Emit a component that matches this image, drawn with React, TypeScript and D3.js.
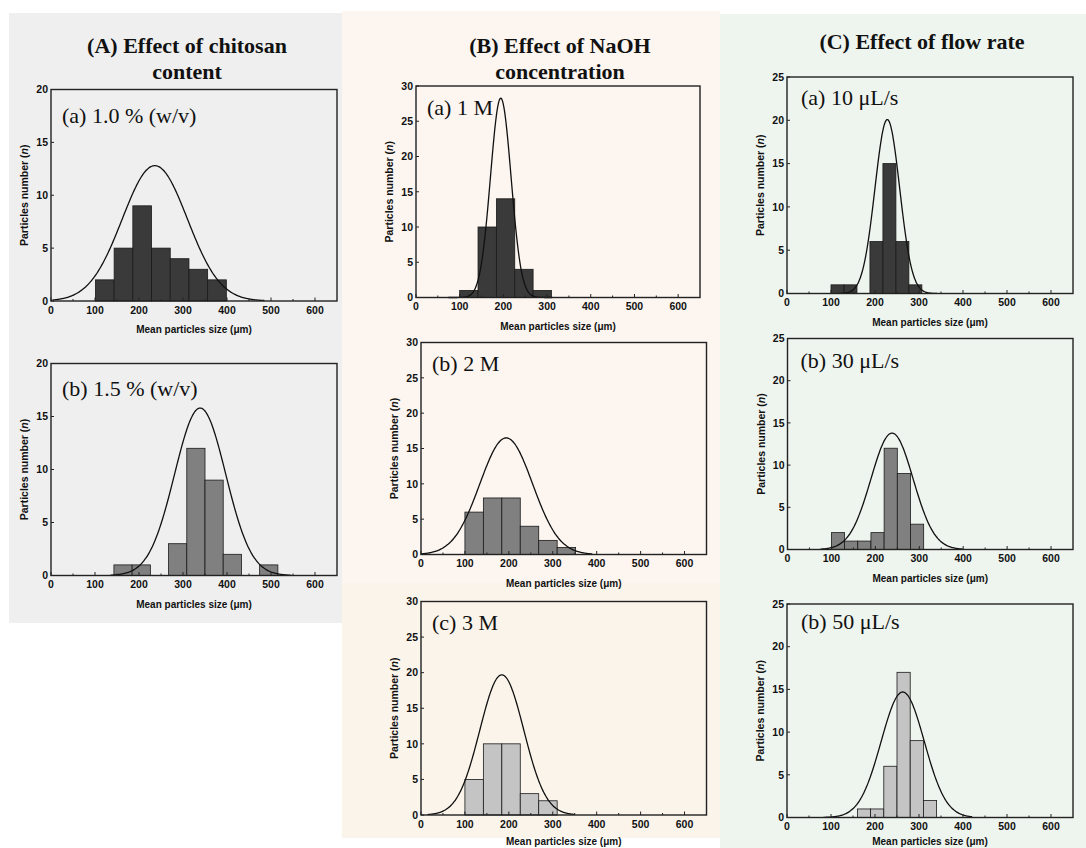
import React from 'react';
import * as d3 from 'd3';

// --- data (bin edges in µm, counts per bin, normal fit) ---

// (A) chitosan content
const chitosan10Edges = [101, 143.5, 186, 228.5, 271, 313.5, 356, 398.5];
const chitosan10Counts = [2, 5, 9, 5, 4, 3, 2];
const chitosan10Fit = { mean: 236, sd: 74, peak: 12.8, from: 3, to: 485 };

const chitosan15Edges = [143, 184.4, 225.8, 267.2, 308.6, 350, 391.4, 432.8, 474.2, 515.6];
const chitosan15Counts = [1, 1, 0, 3, 12, 9, 2, 0, 1];
const chitosan15Fit = { mean: 339, sd: 58, peak: 15.8, from: 135, to: 546 };

// (B) NaOH concentration
const naoh1Edges = [100, 142, 184, 226, 268, 310];
const naoh1Counts = [1, 10, 14, 4, 1];
const naoh1Fit = { mean: 194, sd: 23.5, peak: 28.3, from: 74, to: 312 };

const naoh2Edges = [100, 142, 184, 226, 268, 310, 352];
const naoh2Counts = [6, 8, 8, 4, 2, 1];
const naoh2Fit = { mean: 194, sd: 60, peak: 16.5, from: 0, to: 390 };

const naoh3Edges = [100, 142, 184, 226, 268, 310];
const naoh3Counts = [5, 10, 10, 3, 2];
const naoh3Fit = { mean: 184, sd: 50, peak: 19.7, from: 15, to: 350 };

// (C) flow rate
const flow10Edges = [100, 129.5, 159, 188.5, 218, 247.5, 277, 306.5];
const flow10Counts = [1, 1, 0, 6, 15, 6, 1];
const flow10Fit = { mean: 228, sd: 28, peak: 20.1, from: 117, to: 342 };

const flow30Edges = [100, 130, 160, 190, 220, 250, 280, 310];
const flow30Counts = [2, 1, 1, 2, 12, 9, 3];
const flow30Fit = { mean: 238, sd: 48, peak: 13.8, from: 75, to: 400 };

const flow50Edges = [160, 190, 220, 250, 280, 310, 340];
const flow50Counts = [1, 1, 6, 17, 9, 2];
const flow50Fit = { mean: 263, sd: 49, peak: 14.7, from: 83, to: 421 };

const xTickValues = [0, 100, 200, 300, 400, 500, 600];
const xMinorTickValues = [50, 150, 250, 350, 450, 550];

const SERIF = '"Liberation Serif", "Times New Roman", serif';
const SANS = '"Liberation Sans", Arial, sans-serif';

const DARK = '#3a3a3a';
const MID = '#808080';
const LIGHT = '#c4c4c4';

type Fit = { mean: number; sd: number; peak: number; from: number; to: number };

type HistProps = {
  left: number;
  top: number;
  right: number;
  bottom: number;
  yMax: number;
  label: string;
  labelDx: number;
  labelDy: number;
  titleDy?: number;
  edges: number[];
  counts: number[];
  fit: Fit;
  fill: string;
};

const Histogram = ({ left, top, right, bottom, yMax, label, labelDx, labelDy, titleDy = 32, edges, counts, fit, fill }: HistProps) => {
  const x = d3.scaleLinear().domain([0, 650]).range([left, right]);
  const y = d3.scaleLinear().domain([0, yMax]).range([bottom, top]);
  const yTicks = d3.range(0, yMax + 1, 5);

  // normal fit curve, sampled along its drawn range
  const pts = d3.range(fit.from, fit.to + 0.01, 2).map((v) => [
    v,
    fit.peak * Math.exp(-((v - fit.mean) ** 2) / (2 * fit.sd * fit.sd)),
  ]);
  const line = d3
    .line<number[]>()
    .x((d) => x(d[0]))
    .y((d) => y(d[1]))
    .curve(d3.curveBasis);

  return (
    <g>
      {counts.map((c, i) =>
        c > 0 ? (
          <rect
            key={i}
            x={x(edges[i])}
            y={y(c)}
            width={x(edges[i + 1]) - x(edges[i])}
            height={y(0) - y(c)}
            fill={fill}
            stroke="#1a1a1a"
            strokeWidth={0.8}
          />
        ) : null
      )}
      <path d={line(pts) || ''} fill="none" stroke="#111" strokeWidth={1.3} />
      <rect x={left} y={top} width={right - left} height={bottom - top} fill="none" stroke="#222" strokeWidth={1.4} />

      {/* x ticks, inward */}
      {xTickValues.map((v) => (
        <g key={v}>
          <line x1={x(v)} x2={x(v)} y1={bottom} y2={bottom - 3.5} stroke="#222" />
          <text
            x={x(v)}
            y={bottom + 12.5}
            textAnchor="middle"
            fontFamily={SANS}
            fontWeight="bold"
            fontSize={10.5}
            fill="#111"
          >
            {v}
          </text>
        </g>
      ))}
      {xMinorTickValues.map((v) => (
        <line key={v} x1={x(v)} x2={x(v)} y1={bottom} y2={bottom - 2} stroke="#222" />
      ))}

      {/* y ticks */}
      {yTicks.map((v) => (
        <g key={v}>
          <line x1={left} x2={left + 3} y1={y(v)} y2={y(v)} stroke="#222" />
          <text
            x={left - 3}
            y={y(v)}
            dy="0.36em"
            textAnchor="end"
            fontFamily={SANS}
            fontWeight="bold"
            fontSize={10.5}
            fill="#111"
          >
            {v}
          </text>
        </g>
      ))}

      <text
        x={(left + right) / 2}
        y={bottom + titleDy}
        textAnchor="middle"
        fontFamily={SANS}
        fontWeight="bold"
        fontSize={10}
        fill="#111"
      >
        Mean particles size (μm)
      </text>
      <text
        transform={`translate(${left - 23}, ${(top + bottom) / 2}) rotate(-90)`}
        textAnchor="middle"
        fontFamily={SANS}
        fontWeight="bold"
        fontSize={10.5}
        fill="#111"
      >
        Particles number (<tspan fontStyle="italic">n</tspan>)
      </text>

      <text x={left + labelDx} y={top + labelDy} fontFamily={SERIF} fontSize={22} fill="#111">
        {label}
      </text>
    </g>
  );
};

const PanelTitle = ({ x, lines, y0 }: { x: number; lines: string[]; y0: number }) => (
  <text x={x} y={y0} textAnchor="middle" fontFamily={SERIF} fontWeight="bold" fontSize={22} fill="#111">
    {lines.map((t, i) => (
      <tspan key={i} x={x} dy={i === 0 ? 0 : 26}>
        {t}
      </tspan>
    ))}
  </text>
);

export default function App() {
  return (
    <svg
      width={1086}
      height={848}
      style={{ position: 'absolute', left: 0, top: 0, background: '#fff' }}
    >
      {/* panel backgrounds */}
      <rect x={9} y={13} width={333} height={610} fill="#efefef" />
      <rect x={342} y={11} width={378} height={572} fill="#fcf5f0" />
      <rect x={342} y={583} width={378} height={255} fill="#fbf4eb" />
      <rect x={720} y={14} width={366} height={834} fill="#eef4ee" />

      <PanelTitle x={187} y0={53} lines={['(A) Effect of chitosan', 'content']} />
      <PanelTitle x={560} y0={53} lines={['(B) Effect of NaOH', 'concentration']} />
      <PanelTitle x={922} y0={49} lines={['(C) Effect of flow rate']} />

      <Histogram left={51} top={89.5} right={337} bottom={301} yMax={20} label="(a) 1.0 % (w/v)"
        labelDx={11} labelDy={33} edges={chitosan10Edges} counts={chitosan10Counts} fit={chitosan10Fit} fill={DARK} />
      <Histogram left={51} top={363.5} right={337} bottom={575.5} yMax={20} label="(b) 1.5 % (w/v)"
        labelDx={11} labelDy={32} edges={chitosan15Edges} counts={chitosan15Counts} fit={chitosan15Fit} fill={MID} />

      <Histogram left={416} top={86} right={700} bottom={297.5} yMax={30} label="(a) 1 M"
        labelDx={11} labelDy={29} edges={naoh1Edges} counts={naoh1Counts} fit={naoh1Fit} fill={DARK} />
      <Histogram left={421} top={342.5} right={706.5} bottom={554.5} yMax={30} label="(b) 2 M"
        labelDx={11} labelDy={28} edges={naoh2Edges} counts={naoh2Counts} fit={naoh2Fit} fill={MID} />
      <Histogram left={421} top={601.5} right={706.5} bottom={815} yMax={30} label="(c) 3 M"
        labelDx={11} labelDy={28.5} titleDy={29.5} edges={naoh3Edges} counts={naoh3Counts} fit={naoh3Fit} fill={LIGHT} />

      <Histogram left={787} top={77} right={1073} bottom={293.5} yMax={25} label="(a) 10 μL/s"
        labelDx={14} labelDy={28} edges={flow10Edges} counts={flow10Counts} fit={flow10Fit} fill={DARK} />
      <Histogram left={787.5} top={338.5} right={1073} bottom={549.5} yMax={25} label="(b) 30 μL/s"
        labelDx={13} labelDy={29} edges={flow30Edges} counts={flow30Counts} fit={flow30Fit} fill={MID} />
      <Histogram left={787} top={604} right={1073} bottom={817.5} yMax={25} label="(b) 50 μL/s"
        labelDx={14} labelDy={25} titleDy={27} edges={flow50Edges} counts={flow50Counts} fit={flow50Fit} fill={LIGHT} />
    </svg>
  );
}
